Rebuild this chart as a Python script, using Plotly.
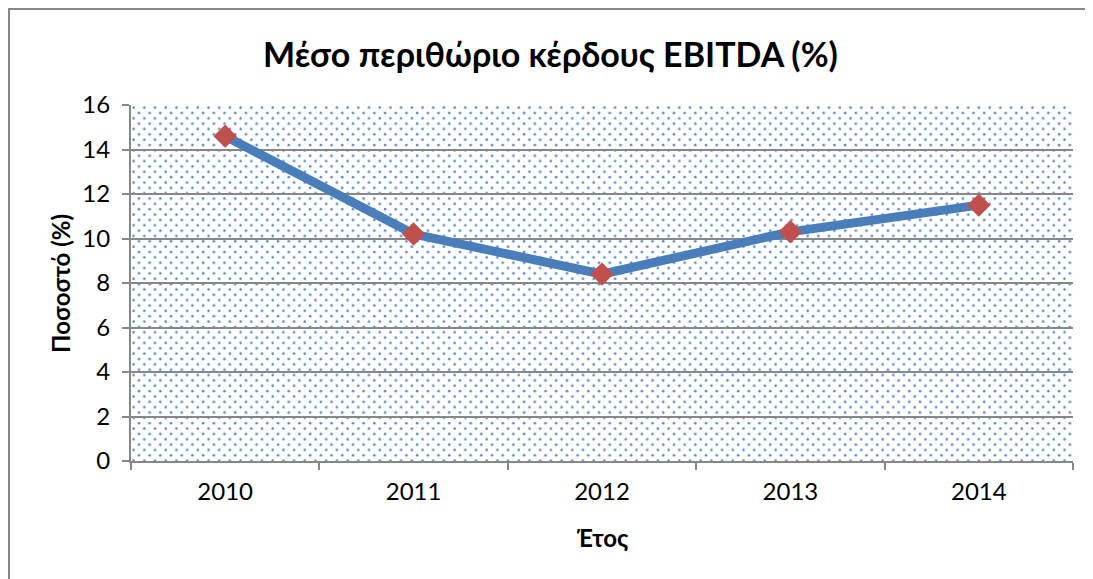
import base64
import plotly.graph_objects as go

years = ["2010", "2011", "2012", "2013", "2014"]
ebitda_margin = [14.6, 10.2, 8.4, 10.3, 11.5]

title_text = "Μέσο περιθώριο κέρδους EBITDA (%)"
y_title = "Ποσοστό (%)"
x_title = "Έτος"

FONT = "Lato"
GRID = "#878787"
LINE_BLUE = "#4a7ebb"
MARK_RED = "#c0504d"

# staggered dotted texture for the plot-area background
PW, PH = 942, 356
step = 10.7
svg = (
    f'<svg xmlns="http://www.w3.org/2000/svg" width="{PW}" height="{PH}">'
    f'<defs><pattern id="d" patternUnits="userSpaceOnUse" width="{step}" height="{step}">'
    f'<circle cx="2.6" cy="2.6" r="1.3" fill="#5b8bcb"/>'
    f'<circle cx="{2.6 + step / 2}" cy="{2.6 + step / 2}" r="1.3" fill="#5b8bcb"/>'
    f'</pattern></defs>'
    f'<rect width="{PW}" height="{PH}" fill="white"/>'
    f'<rect width="{PW}" height="{PH}" fill="url(#d)"/></svg>'
)
bg_src = "data:image/svg+xml;base64," + base64.b64encode(svg.encode()).decode()

fig = go.Figure()
fig.add_trace(go.Scatter(
    x=years, y=ebitda_margin, mode="lines+markers",
    line=dict(color=LINE_BLUE, width=9),
    marker=dict(symbol="diamond", size=18, color=MARK_RED, line=dict(width=0)),
    showlegend=False,
))

fig.update_layout(
    width=1085, height=571,
    margin=dict(l=123, r=20, t=97, b=118),
    paper_bgcolor="white", plot_bgcolor="white",
    font=dict(family=FONT, color="black"),
    title=dict(text=title_text, x=0.5, xanchor="center", y=0.9177, yanchor="middle",
               font=dict(family=FONT, size=34, color="black", weight="bold")),
    xaxis=dict(type="category", categoryorder="array", categoryarray=years,
               range=[-0.5, 4.5], showgrid=False,
               showline=True, linecolor=GRID, linewidth=2,
               ticks="outside", tickson="boundaries", ticklen=7,
               tickcolor=GRID, tickwidth=2, ticklabelstandoff=8,
               tickfont=dict(family=FONT, size=24, color="black")),
    yaxis=dict(range=[0, 16], dtick=2,
               showgrid=True, gridcolor=GRID, gridwidth=2,
               showline=True, linecolor=GRID, linewidth=2,
               ticks="outside", ticklen=7, tickcolor=GRID, tickwidth=2,
               ticklabelstandoff=7, zeroline=False,
               tickfont=dict(family=FONT, size=24, color="black")),
    images=[dict(source=bg_src, xref="paper", yref="paper", x=0, y=1,
                 sizex=1, sizey=1, xanchor="left", yanchor="top",
                 sizing="stretch", layer="below")],
    annotations=[
        dict(text=y_title, xref="paper", yref="paper", x=-0.0754, y=0.5,
             textangle=-90, showarrow=False, xanchor="center", yanchor="middle",
             font=dict(family=FONT, size=24, color="black", weight="bold")),
        dict(text=x_title, xref="paper", yref="paper", x=0.5, y=-0.2135,
             showarrow=False, xanchor="center", yanchor="middle",
             font=dict(family=FONT, size=24, color="black", weight="bold")),
    ],
    shapes=[dict(type="rect", xref="paper", yref="paper",
                 x0=-0.1295, x1=1.3, y0=-0.6, y1=1.2697,
                 line=dict(color=GRID, width=2), fillcolor="rgba(0,0,0,0)",
                 layer="below")],
)

fig.write_html("out.html")
